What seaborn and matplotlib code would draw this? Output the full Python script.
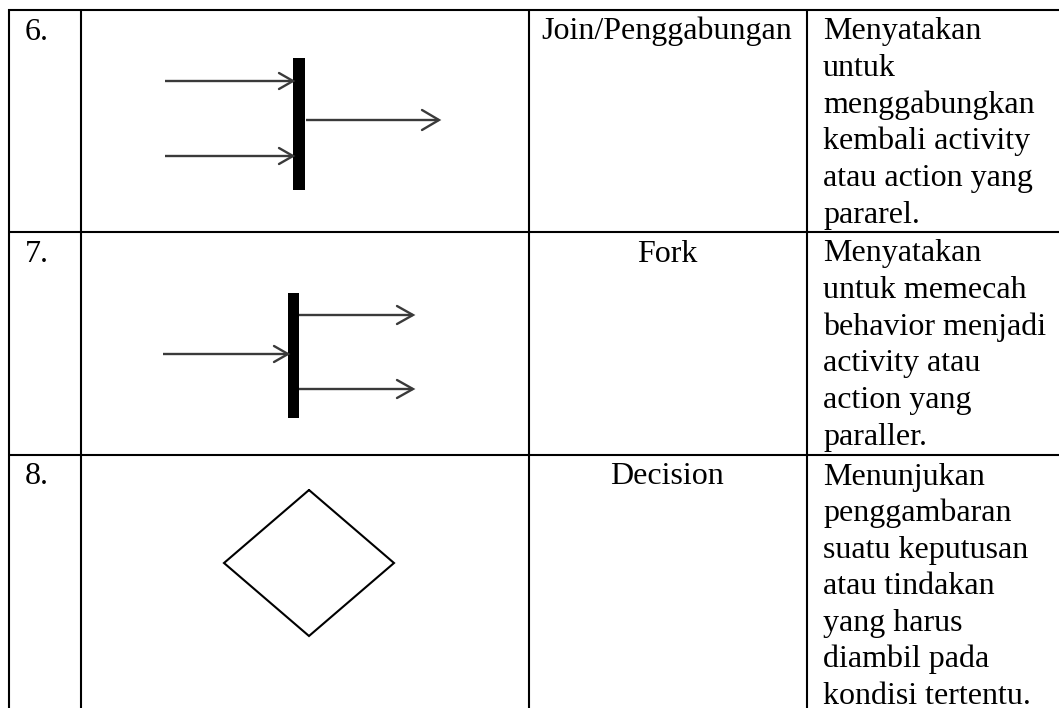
import matplotlib
matplotlib.use("Agg")
import matplotlib.pyplot as plt
import seaborn as sns

sns.set_theme(style="white")
plt.rcParams["font.family"] = ["Liberation Serif", "DejaVu Serif"]

#table content
numbers = ["6.", "7.", "8."]
names = ["Join/Penggabungan", "Fork", "Decision"]
descriptions = [
    ["Menyatakan", "untuk", "menggabungkan", "kembali activity", "atau action yang", "pararel."],
    ["Menyatakan", "untuk memecah", "behavior menjadi", "activity atau", "action yang", "paraller."],
    ["Menunjukan", "penggambaran", "suatu keputusan", "atau tindakan", "yang harus", "diambil pada", "kondisi tertentu."],
]

#layout in pixels (image is 1059 x 708)
W, H = 1059, 708
col_edges = [9, 81, 529, 807]
row_edges = [10, 232, 455]
num_x = 25
name_x = 667
desc_x = 823
first_baseline = 29.5
line_step = 36.6
font_px = 32

#join symbol: bar, incoming arrows, outgoing arrow
join_bar = dict(x=293, y0=58, y1=190, w=12)
join_in_y = [81, 156]
join_in_x = [165, 293]
join_out_y = [120]
join_out_x = [306, 439]

#fork symbol
fork_bar = dict(x=288, y0=293, y1=418, w=11)
fork_in_y = [354]
fork_in_x = [163, 288]
fork_out_y = [315, 389]
fork_out_x = [299, 413]

#decision diamond: top, right, bottom, left
diamond_x = [309, 394, 309, 224, 309]
diamond_y = [490, 563, 636, 563, 490]

fig = plt.figure(figsize=(W / 100, H / 100), dpi=100)
ax = fig.add_axes([0, 0, 1, 1])
ax.set_xlim(0, W)
ax.set_ylim(H, 0)
ax.axis("off")

grid_lw = 1.5
for x in col_edges:
    ax.plot([x, x], [row_edges[0] - 1, H], color="black", lw=grid_lw, solid_capstyle="butt")
for y in row_edges:
    ax.plot([col_edges[0] - 1, W], [y, y], color="black", lw=grid_lw, solid_capstyle="butt")

fs = font_px * 72 / 100
for i in range(len(numbers)):
    top = row_edges[i]
    base = top + first_baseline
    ax.text(num_x, base, numbers[i], fontsize=fs, va="baseline", ha="left", color="black")
    ax.text(name_x, base, names[i], fontsize=fs, va="baseline", ha="center", color="black")
    for j, line in enumerate(descriptions[i]):
        ax.text(desc_x, base + j * line_step, line, fontsize=fs, va="baseline", ha="left", color="black")

arrow_col = "#3a3a3a"


def arrow(x0, x1, y, head_len=14, head_half=8):
    ax.plot([x0, x1], [y, y], color=arrow_col, lw=1.7, solid_capstyle="butt")
    ax.plot([x1 - head_len, x1, x1 - head_len], [y - head_half, y, y + head_half],
            color=arrow_col, lw=1.7, solid_joinstyle="miter")


def bar(b):
    ax.add_patch(plt.Rectangle((b["x"], b["y0"]), b["w"], b["y1"] - b["y0"], color="black", lw=0))


bar(join_bar)
for y in join_in_y:
    arrow(join_in_x[0], join_in_x[1], y)
for y in join_out_y:
    arrow(join_out_x[0], join_out_x[1], y, head_len=17, head_half=10)

bar(fork_bar)
for y in fork_in_y:
    arrow(fork_in_x[0], fork_in_x[1], y)
for y in fork_out_y:
    arrow(fork_out_x[0], fork_out_x[1], y, head_len=16, head_half=9)

ax.plot(diamond_x, diamond_y, color="black", lw=1.5, solid_joinstyle="miter")

fig.savefig("out.png", dpi=100)
